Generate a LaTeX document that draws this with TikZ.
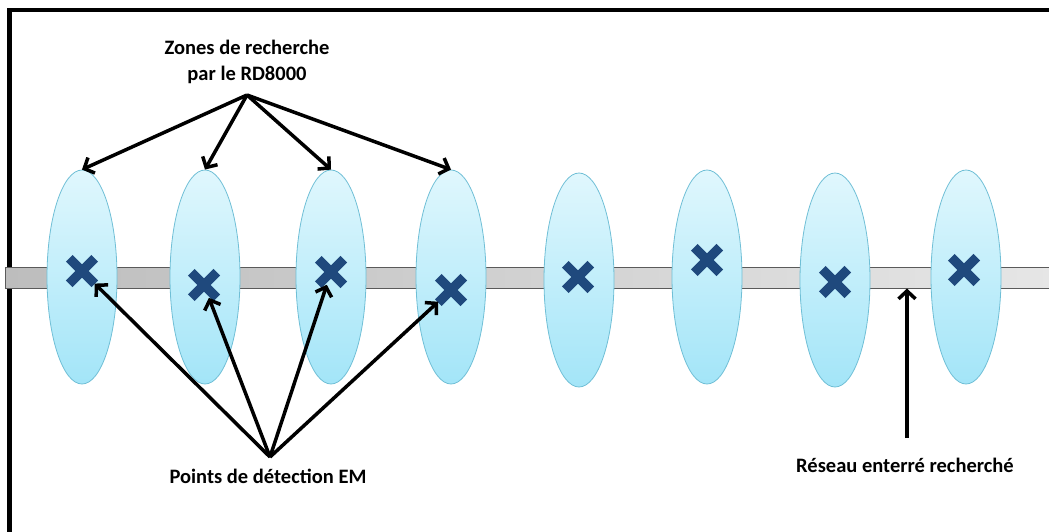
\documentclass[tikz,border=0pt]{standalone}
\usepackage{fontspec}
\setmainfont{Carlito}
\usetikzlibrary{positioning,arrows.meta,shapes.geometric,shapes.misc}

\definecolor{zonetop}{HTML}{E0F7FD}
\definecolor{zonebot}{HTML}{A3E5F8}
\definecolor{zoneline}{HTML}{70BFD6}
\definecolor{crossblue}{HTML}{1F497D}
\definecolor{pipeleft}{HTML}{BDBDBD}
\definecolor{piperight}{HTML}{E6E6E6}
\definecolor{pipeline}{HTML}{5A5A5A}

\begin{document}
\begin{tikzpicture}[
		x=1pt,y=-1pt,
		zone/.style={
			ellipse,
			draw=zoneline,
			line width=0.8pt,
			top color=zonetop,
			bottom color=zonebot,
			minimum width=70pt,
			minimum height=214pt,
			inner sep=0pt
		},
		emcross/.style={
			cross out,
			draw=crossblue,
			line width=9.5pt,
			minimum size=16pt,
			inner sep=0pt
		},
		pipe/.style={
			draw=pipeline,
			line width=1pt,
			left color=pipeleft,
			right color=piperight,
			minimum width=1050pt,
			minimum height=21pt,
			inner sep=0pt
		},
		arr/.style={-{Straight Barb[length=8pt,width=17pt]},line width=3.5pt},
		lbl/.style={font=\bfseries\fontsize{20.5}{26}\selectfont,align=center,inner sep=0pt}
		]
		
		\useasboundingbox (0,0) rectangle (1049,532);
		
		% frame
		\draw[line width=4.5pt] (9.5,540) -- (9.5,10) -- (1060,10);
		
		% buried pipe
		\node[pipe] (pipe) at (530,277.5) {};
		
		% search zones
		\node[zone] (e1) at (82,277) {};
		\node[zone] (e2) at (205,277) {};
		\node[zone] (e3) at (331,277) {};
		\node[zone] (e4) at (451,277) {};
		\node[zone] (e5) at (579,280) {};
		\node[zone] (e6) at (707,277) {};
		\node[zone] (e7) at (835,280) {};
		\node[zone] (e8) at (966,277) {};
		
		% detection points
		\node[emcross] (c1) at (82,271) {};
		\node[emcross] (c2) at (204,285) {};
		\node[emcross] (c3) at (331,272) {};
		\node[emcross] (c4) at (451,290) {};
		\node[emcross] (c5) at (578,277) {};
		\node[emcross] (c6) at (707,260) {};
		\node[emcross] (c7) at (835,282) {};
		\node[emcross] (c8) at (964,270) {};
		
		% labels
		\node[lbl] (zones) at (247,62)
		{Zones de recherche\\par le RD8000};
		
		\node[lbl] (points) at (268,476)
		{Points de détection EM};
		
		\node[lbl] (reseau) at (905,465)
		{Réseau enterré recherché};
		
		\coordinate (zsrc) at (247,95);
		\coordinate (psrc) at (270,457);
		\coordinate (rsrc) at (907,438);
		
		\draw[arr] (zsrc)--(e1.north);
		\draw[arr] (zsrc)--(e2.north);
		\draw[arr] (zsrc)--(e3.north);
		\draw[arr] (zsrc)--(e4.north);
		
		\draw[arr] (psrc)--(c1);
		\draw[arr] (psrc)--(c2);
		\draw[arr] (psrc)--(c3);
		\draw[arr] (psrc)--(c4);
		
		\draw[arr] (rsrc)--(rsrc |- pipe.south);
		
	\end{tikzpicture}
\end{document}
